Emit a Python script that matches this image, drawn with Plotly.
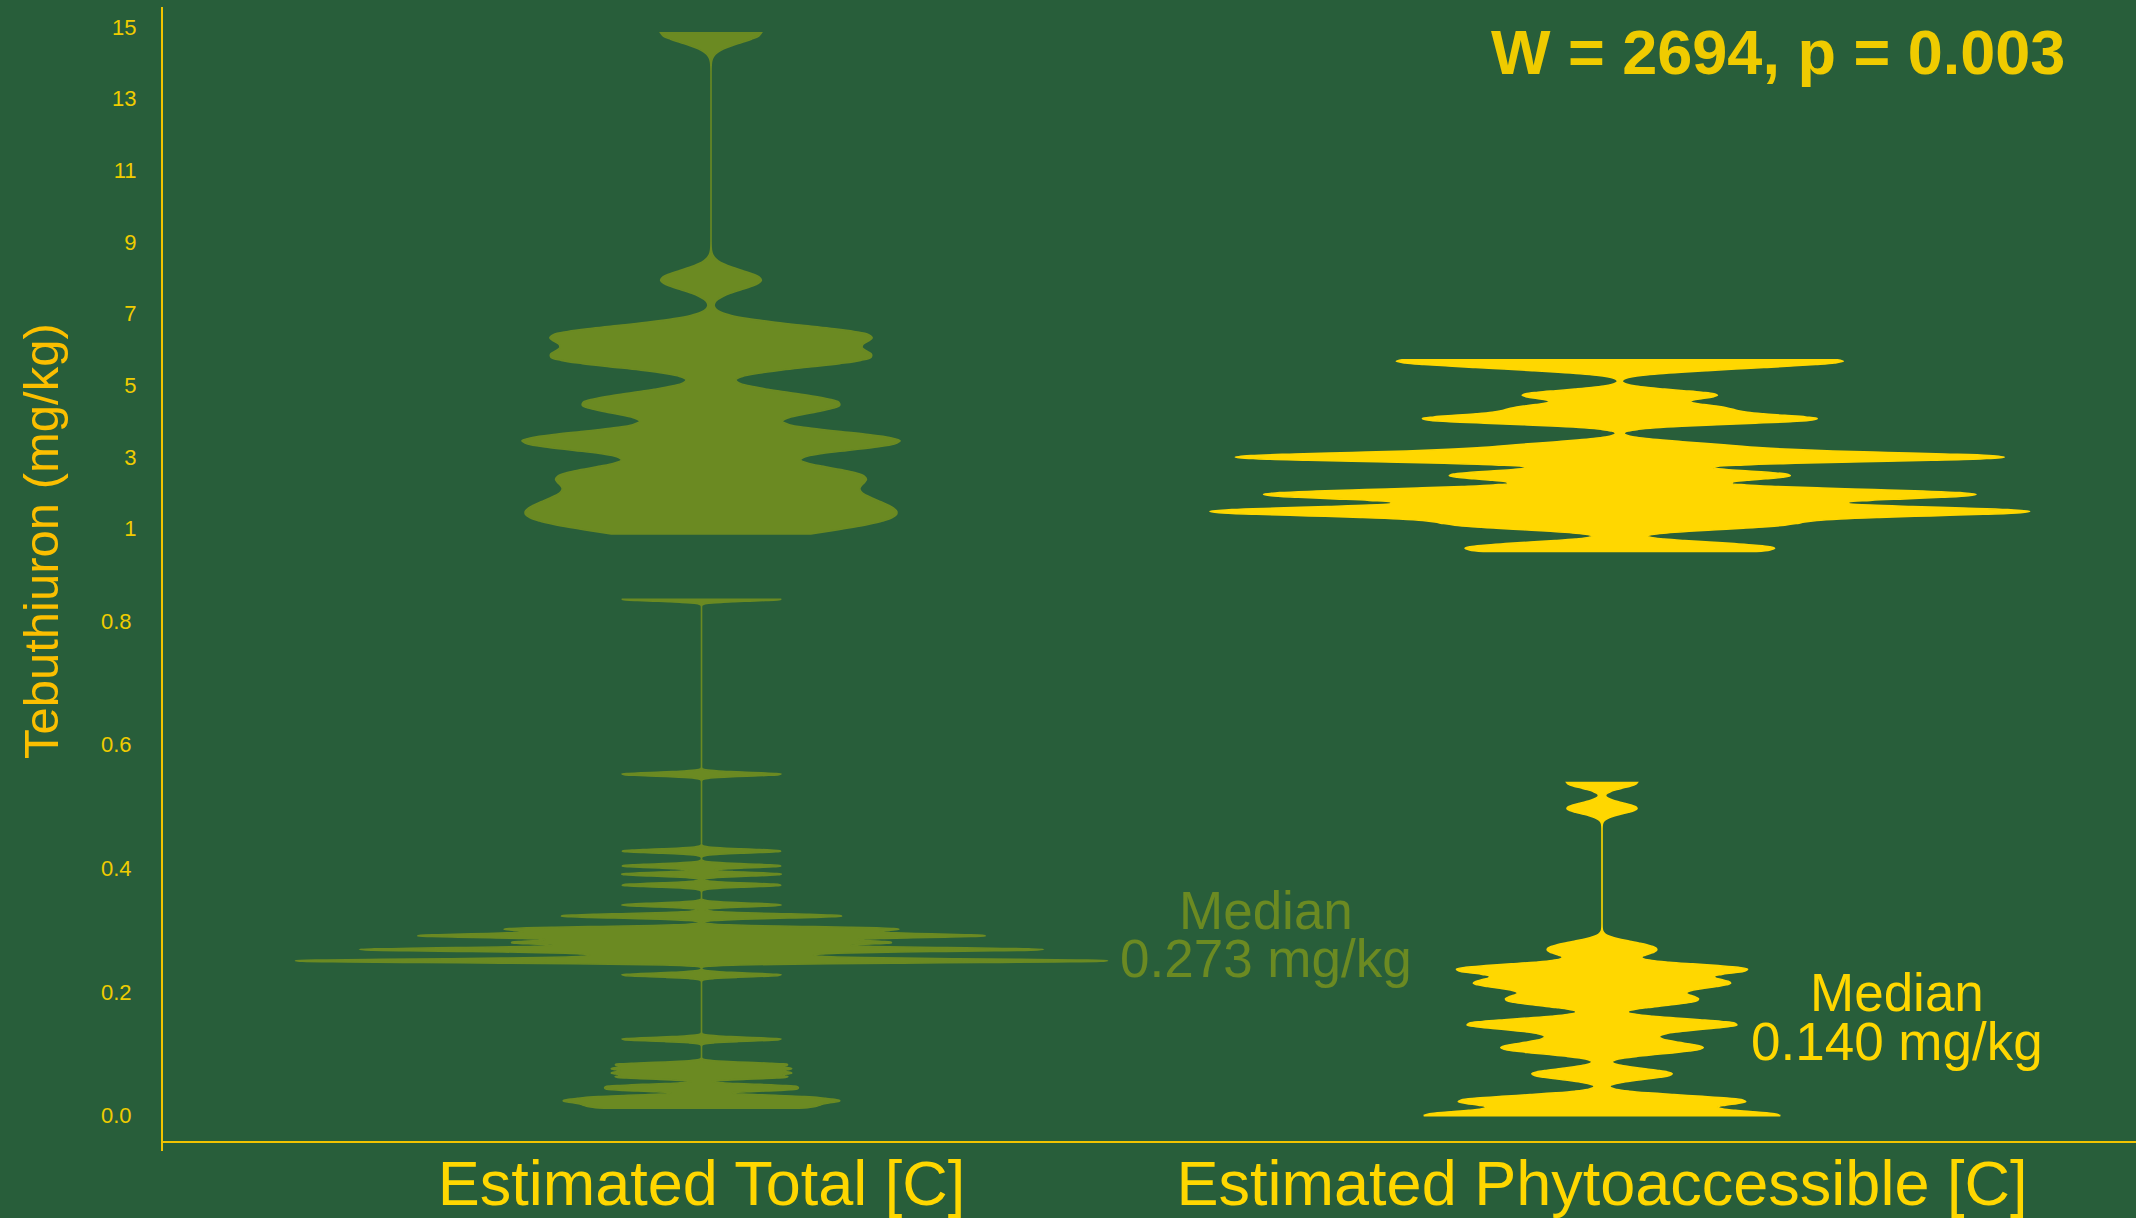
import plotly.graph_objects as go

# ---------------- data (mg/kg) ----------------
categories = ["Estimated Total [C]", "Estimated Phytoaccessible [C]"]

# upper segment of the broken axis
total_upper = [14.84, 7.94, 6.46, 6.40, 6.34, 5.82, 5.76, 5.70, 4.66, 4.48, 4.28,
               3.58, 3.48, 3.40, 3.30, 2.66, 2.50, 2.34, 2.05, 1.80, 1.65, 1.42,
               1.30, 1.12, 0.85]
phyto_upper = [5.71, 5.71, 5.50, 4.73, 4.36, 4.05, 4.05, 3.30, 3.02, 2.99, 2.99,
               2.96, 2.55, 2.42, 2.10, 1.94, 1.94, 1.94, 1.72, 1.47, 1.47, 1.47,
               1.47, 1.20, 1.05, 0.53, 0.36]

# lower segment of the broken axis
total_lower = [0.8354, 0.5523, 0.428, 0.404, 0.3905, 0.373, 0.3408, 0.3215, 0.3245,
               0.303, 0.303, 0.2985, 0.295, 0.2906, 0.2906, 0.2906, 0.285, 0.2798,
               0.2798, 0.274, 0.2685, 0.2685, 0.2685, 0.2685, 0.262, 0.2565,
               0.2502, 0.2502, 0.2502, 0.2502, 0.2502, 0.2275, 0.1235, 0.083,
               0.076, 0.069, 0.062, 0.048, 0.042, 0.031, 0.026, 0.022, 0.017,
               0.0118]
phyto_lower = [0.5387, 0.4972, 0.275, 0.263, 0.237, 0.237, 0.237, 0.237, 0.2157,
               0.2157, 0.2157, 0.205, 0.192, 0.187, 0.181, 0.152, 0.148, 0.148,
               0.144, 0.128, 0.113, 0.109, 0.105, 0.0673, 0.0673, 0.024, 0.024,
               0.024, 0.024, 0.0, 0.0, 0.0, 0.0, 0.0]

upper_ticks = [1, 3, 5, 7, 9, 11, 13, 15]
lower_ticks = [0.0, 0.2, 0.4, 0.6, 0.8]

stat_text = "W = 2694, p = 0.003"
median_total = "0.273 mg/kg"
median_phyto = "0.140 mg/kg"

# ---------------- style ----------------
BG = "#285E3A"
GREEN = "#6B8A22"
GOLD = "#FFD700"
AXIS = "#F2C400"
TICK = "#F0CC00"
TITLE = "#FBBF00"
FONT = "Liberation Sans, Arial, sans-serif"

W, H = 2136, 1218
L, R, T, B = 163, 0, 0, 67
PW, PH = W - L - R, H - T - B


def px(xp):
    return (xp - L) / PW


def py(yp):
    return (H - B - yp) / PH


split = py(576)

fig = go.Figure()


def violin(vals, cat, color, bw, width, xa, ya):
    fig.add_trace(go.Violin(
        x=[cat] * len(vals), y=vals, xaxis=xa, yaxis=ya,
        fillcolor=color, line=dict(color=color, width=1.6), opacity=1,
        bandwidth=bw, spanmode="hard", scalemode="width", width=width,
        points=False, box_visible=False, meanline_visible=False,
        showlegend=False, hoverinfo="skip"))


violin(total_upper, categories[0], GREEN, 0.27, 0.416, "x2", "y2")
violin(phyto_upper, categories[1], GOLD, 0.13, 0.902, "x2", "y2")
violin(total_lower, categories[0], GREEN, 0.003, 0.902, "x", "y")
violin(phyto_lower, categories[1], GOLD, 0.0085, 0.396, "x", "y")

fig.update_layout(
    width=W, height=H,
    margin=dict(l=L, r=R, t=T, b=B, pad=0, autoexpand=False),
    paper_bgcolor=BG, plot_bgcolor=BG,
    font=dict(family=FONT, color=GOLD),
    violinmode="overlay",
    showlegend=False,
    xaxis=dict(domain=[0, 1], anchor="free", position=py(1142),
               type="category",
               categoryorder="array", categoryarray=categories,
               range=[-0.598, 1.593], showgrid=False, zeroline=False,
               showline=True, linecolor=AXIS, linewidth=2, ticks="",
               automargin=False, ticklabelstandoff=-14,
               tickfont=dict(size=63, color=GOLD, family=FONT)),
    xaxis2=dict(domain=[0, 1], anchor="y2", type="category",
                categoryorder="array", categoryarray=categories,
                range=[-0.603, 1.568], showgrid=False, zeroline=False,
                showline=False, showticklabels=False, ticks="",
                automargin=False),
    yaxis=dict(domain=[0, split], anchor="x", range=[-0.0573, 0.873],
               tickvals=lower_ticks, tickformat=".1f", showgrid=False,
               zeroline=False, showline=True, linecolor=AXIS, linewidth=2,
               ticks="", ticklabelstandoff=25, automargin=False,
               tickfont=dict(size=22, color=TICK, family=FONT)),
    yaxis2=dict(domain=[split, py(7)], anchor="x2", range=[-0.327, 15.56],
                tickvals=upper_ticks, showgrid=False, zeroline=False,
                showline=True, linecolor=AXIS, linewidth=2, ticks="",
                ticklabelstandoff=20, automargin=False,
                tickfont=dict(size=22, color=TICK, family=FONT)),
)

ann = [
    dict(text="Tebuthiuron (mg/kg)", x=px(41), y=py(541), textangle=-90,
         font=dict(size=49, color=TITLE)),
    dict(text="<b>" + stat_text + "</b>", x=px(1778), y=py(52),
         font=dict(size=63, color="#EFCB00")),
    dict(text="Median", x=px(1266), y=py(910), font=dict(size=53, color=GREEN)),
    dict(text=median_total, x=px(1266), y=py(958), font=dict(size=53, color=GREEN)),
    dict(text="Median", x=px(1897), y=py(992), font=dict(size=53, color=GOLD)),
    dict(text=median_phyto, x=px(1897), y=py(1041), font=dict(size=53, color=GOLD)),
]
for a in ann:
    a.update(xref="paper", yref="paper", showarrow=False,
             xanchor="center", yanchor="middle")
    a["font"]["family"] = FONT
    fig.add_annotation(**a)

fig.write_html(
    "out.html",
    config={"displayModeBar": False},
    post_script="document.body.style.margin='0';"
                "document.body.style.overflow='hidden';",
)
